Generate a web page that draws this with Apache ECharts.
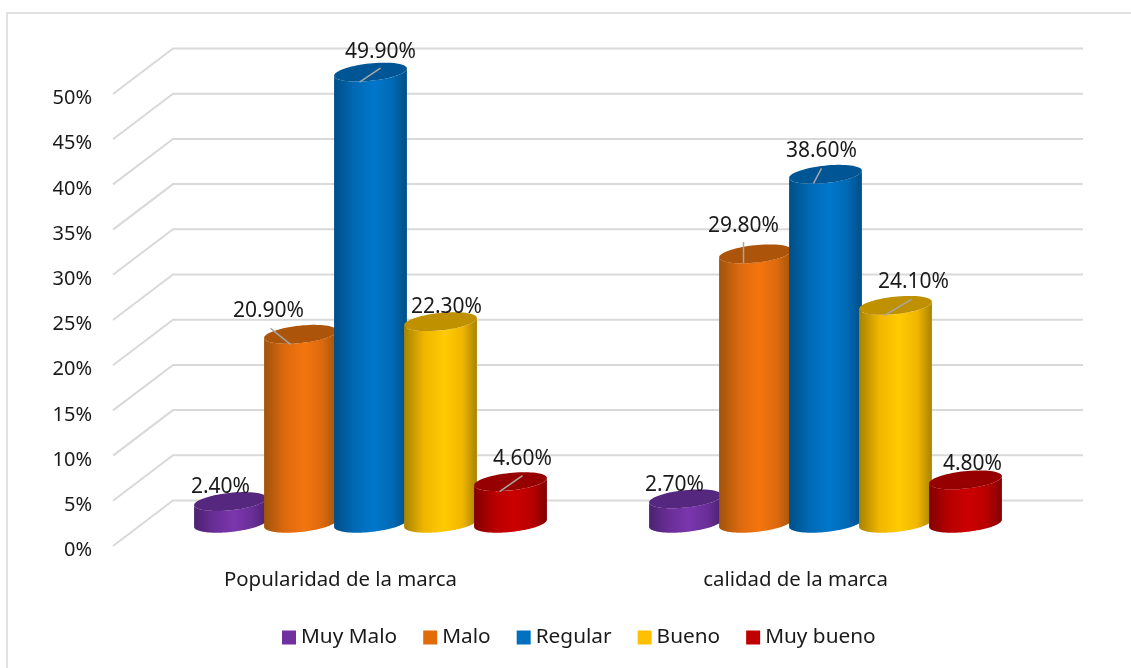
<!DOCTYPE html>
<html>
<head>
<meta charset="utf-8">
<style>
  html, body { margin: 0; padding: 0; background: #fff; }
  #chart { width: 1131px; height: 668px; }
</style>
<script src="https://cdn.jsdelivr.net/npm/echarts@6/dist/echarts.min.js"></script>
</head>
<body>
<div id="chart"></div>
<script>
const categories = ['Popularidad de la marca', 'calidad de la marca'];
const muyMalo = [2.4, 2.7];
const malo = [20.9, 29.8];
const regular = [49.9, 38.6];
const bueno = [22.3, 24.1];
const muyBueno = [4.6, 4.8];
const gridTicks = [0, 5, 10, 15, 20, 25, 30, 35, 40, 45, 50];

const FONT = '"Noto Sans"';
const TEXT = '#1a1a1a';

// Depth of the pseudo-3D box: the bars stand halfway to the back wall.
const DEPTH_X = 60, DEPTH_Y = -45.5;
const BAR_STEP = 70, RX = 36.6, RY = 8.7, TILT = 6 * Math.PI / 180;

// Point on a tilted ellipse, left end lower than the right end.
function ellipsePoint(cx, cy, t) {
  const x = RX * Math.cos(t), y = RY * Math.sin(t);
  return [cx + x * Math.cos(TILT) + y * Math.sin(TILT),
          cy - x * Math.sin(TILT) + y * Math.cos(TILT)];
}
function ellipsePolygon(cx, cy) {
  const pts = [];
  for (let i = 0; i < 72; i++) pts.push(ellipsePoint(cx, cy, i / 72 * 2 * Math.PI));
  return pts;
}
// Parameter of the left and right silhouette points of the ellipse.
const T_RIGHT = Math.atan2(RY * Math.sin(TILT), RX * Math.cos(TILT));
function bodyPolygon(cx, topY, baseY) {
  const pts = [];
  const n = 48;
  for (let i = 0; i <= n; i++) {
    pts.push(ellipsePoint(cx, baseY, T_RIGHT + Math.PI * i / n));
  }
  for (let i = 0; i <= n; i++) {
    pts.push(ellipsePoint(cx, topY, T_RIGHT + Math.PI - Math.PI * i / n));
  }
  return pts;
}

const palette = [
  { name: 'Muy Malo', values: muyMalo, slot: -2, legend: '#7030a0', edge: '#4b2270', soft: '#6a2e98', mid: '#7b36ad', top: '#55277f',
    labels: [[-10, -15], [-11, -14]], leaders: [null, null] },
  { name: 'Malo', values: malo, slot: -1, legend: '#e26b0a', edge: '#a0540c', soft: '#dc690e', mid: '#f4750f', top: '#ac5409',
    labels: [[-32, -23], [-12, -28]], leaders: [[[-30, -6], [-10, 10]], [[-12, -12], [-12, 9]]] },
  { name: 'Regular', values: regular, slot: 0, legend: '#0070c0', edge: '#004f87', soft: '#0069b4', mid: '#0077cc', top: '#005694',
    labels: [[10, -20], [-4, -23]], leaders: [[[10, -4], [-11, 10]], [[-4, -6], [-12, 9]]] },
  { name: 'Bueno', values: bueno, slot: 1, legend: '#ffc000', edge: '#a88300', soft: '#f0b600', mid: '#ffcb00', top: '#bf9000',
    labels: [[6, -15], [18, -23]], leaders: [null, [[16, -6], [-11, 10]]] },
  { name: 'Muy bueno', values: muyBueno, slot: 2, legend: '#c00000', edge: '#820000', soft: '#b80000', mid: '#cc0000', top: '#960000',
    labels: [[12, -23], [7, -16]], leaders: [[[12, -6], [-11, 10]], null] }
];

// Back-wall gridlines with their diagonal run to the value axis.
function renderGrid(params, api) {
  const value = api.value(0);
  const sys = params.coordSys;
  const y = api.coord([0, value])[1];
  return {
    type: 'polyline',
    shape: { points: [[sys.x, y], [sys.x + DEPTH_X, y + DEPTH_Y], [sys.x + sys.width + DEPTH_X, y + DEPTH_Y]] },
    style: { stroke: '#d9d9d9', lineWidth: 2, fill: null }
  };
}

function makeCylinderRenderer(p) {
  return function (params, api) {
    const catIndex = api.value(0);
    const value = api.value(1);
    const top = api.coord([catIndex, value]);
    const base = api.coord([catIndex, 0]);
    const cx = top[0] + DEPTH_X / 2 + p.slot * BAR_STEP;
    const topY = top[1] + DEPTH_Y / 2;
    const baseY = base[1] + DEPTH_Y / 2;
    const fill = new echarts.graphic.LinearGradient(0, 0, 1, 0, [
      { offset: 0, color: p.edge },
      { offset: 0.28, color: p.soft },
      { offset: 0.55, color: p.mid },
      { offset: 0.8, color: p.soft },
      { offset: 1, color: p.edge }
    ]);
    const children = [
      { type: 'polygon', shape: { points: bodyPolygon(cx, topY, baseY) }, style: { fill: fill } },
      { type: 'polygon', shape: { points: ellipsePolygon(cx, topY) }, style: { fill: p.top } }
    ];
    const leader = p.leaders[catIndex];
    if (leader) {
      children.push({
        type: 'line', z2: 50,
        shape: { x1: cx + leader[0][0], y1: topY + leader[0][1], x2: cx + leader[1][0], y2: topY + leader[1][1] },
        style: { stroke: '#a6a6a6', lineWidth: 1.5 }
      });
    }
    const off = p.labels[catIndex];
    children.push({
      type: 'text', z2: 100,
      x: cx + off[0], y: topY + off[1],
      style: {
        text: value.toFixed(2) + '%', fill: TEXT, font: '21px ' + FONT,
        align: 'center', verticalAlign: 'middle'
      }
    });
    return { type: 'group', children: children };
  };
}

const chart = echarts.init(document.getElementById('chart'), null, { renderer: 'canvas' });
chart.setOption({
  animation: false,
  backgroundColor: '#ffffff',
  graphic: [{
    type: 'polyline', silent: true, z: -1,
    shape: { points: [[7, 668], [7, 13], [1131, 13]] },
    style: { stroke: '#d9d9d9', lineWidth: 1.5, fill: null }
  }],
  grid: { left: 113, right: 108, top: 94, bottom: 122 },
  legend: {
    data: palette.map(p => p.name),
    left: 277, top: 622,
    icon: 'rect', itemWidth: 14, itemHeight: 14, itemGap: 26,
    selectedMode: false,
    textStyle: { fontFamily: FONT, fontSize: 20.8, color: TEXT }
  },
  xAxis: {
    type: 'category', data: categories,
    axisLine: { show: false }, axisTick: { show: false }, splitLine: { show: false },
    axisLabel: { fontFamily: FONT, fontSize: 20.4, color: TEXT, margin: 24 }
  },
  yAxis: {
    type: 'value', min: 0, max: 50, interval: 5,
    axisLine: { show: false }, axisTick: { show: false }, splitLine: { show: false },
    axisLabel: {
      color: TEXT, margin: 21,
      formatter: '{tick|{value}%}',
      rich: { tick: { fontFamily: FONT, fontSize: 20, color: TEXT, padding: [9, 0, 0, 0] } }
    }
  },
  series: [{
    type: 'custom', name: 'rejilla', silent: true, z: 1,
    renderItem: renderGrid,
    encode: { y: 0 },
    data: gridTicks.map(t => [t])
  }].concat(palette.map(p => ({
    type: 'custom', name: p.name, z: 2, silent: true,
    itemStyle: { color: p.legend },
    renderItem: makeCylinderRenderer(p),
    encode: { x: 0, y: 1 },
    data: p.values.map((v, i) => [i, v])
  })))
});
</script>
</body>
</html>
